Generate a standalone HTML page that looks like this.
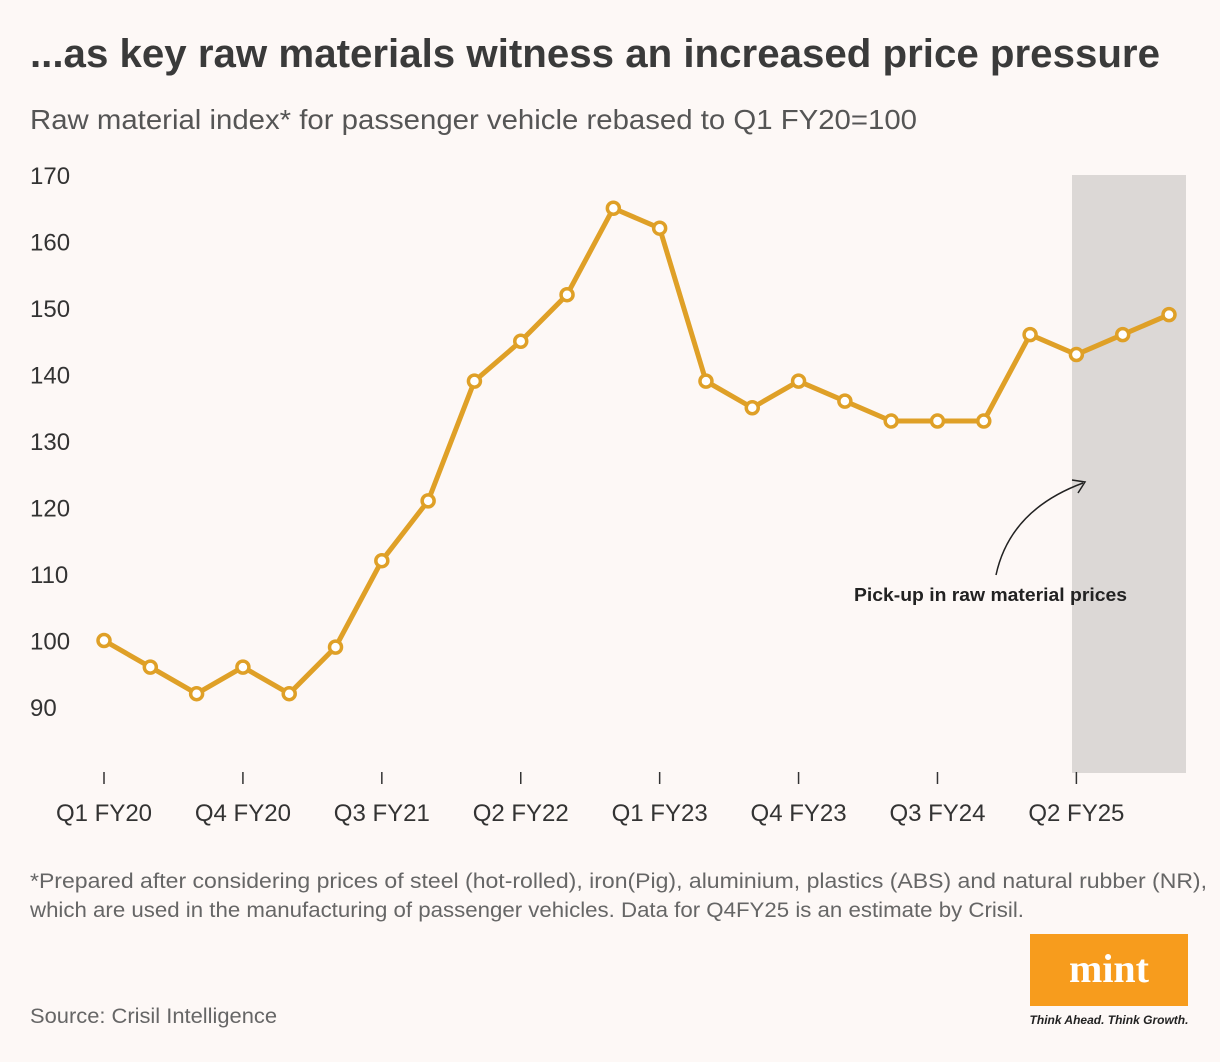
<!DOCTYPE html>
<html><head><meta charset="utf-8"><style>
body{margin:0;background:#fdf8f6;font-family:"Liberation Sans",sans-serif;}
#wrap{position:relative;width:1220px;height:1062px;overflow:hidden;background:#fdf8f6}
</style></head><body>
<div id="wrap">
<svg id="chart" width="1220" height="1062">
<text x="30" y="67" font-size="40" font-weight="bold" fill="#3a3a3a" textLength="1130" lengthAdjust="spacingAndGlyphs">...as key raw materials witness an increased price pressure</text>
<text x="30" y="129" font-size="28" fill="#555" textLength="887" lengthAdjust="spacingAndGlyphs">Raw material index* for passenger vehicle rebased to Q1 FY20=100</text>
<rect x="1072" y="175" width="114" height="598" fill="#dcd8d6"/>
<g id="yaxis"></g>
<g id="xaxis"></g>
<path d="M996 575 Q1010 510 1083 483" fill="none" stroke="#222" stroke-width="1.5"/>
<path d="M1072 480 L1085 482 L1078 493" fill="none" stroke="#222" stroke-width="1.5"/>
<text x="854" y="601" font-size="18" font-weight="bold" fill="#222" textLength="273" lengthAdjust="spacingAndGlyphs">Pick-up in raw material prices</text>
<g id="series"></g>
<text x="30" y="888" font-size="21" fill="#666" textLength="1177" lengthAdjust="spacingAndGlyphs">*Prepared after considering prices of steel (hot-rolled), iron(Pig), aluminium, plastics (ABS) and natural rubber (NR),</text>
<text x="30" y="917" font-size="21" fill="#666" textLength="994" lengthAdjust="spacingAndGlyphs">which are used in the manufacturing of passenger vehicles. Data for Q4FY25 is an estimate by Crisil.</text>
<text x="30" y="1023" font-size="21" fill="#666" textLength="247" lengthAdjust="spacingAndGlyphs">Source: Crisil Intelligence</text>
<rect x="1030" y="934" width="158" height="72" fill="#f79c1d"/>
<text x="1109" y="982" font-size="40" font-weight="bold" fill="#fff" text-anchor="middle" font-family="Liberation Serif,serif">mint</text>
<text x="1109" y="1024" font-size="12" font-weight="bold" font-style="italic" fill="#222" text-anchor="middle">Think Ahead. Think Growth.</text>
</svg>
</div>
<script>
const quarters=["Q1 FY20","Q2 FY20","Q3 FY20","Q4 FY20","Q1 FY21","Q2 FY21","Q3 FY21","Q4 FY21","Q1 FY22","Q2 FY22","Q3 FY22","Q4 FY22","Q1 FY23","Q2 FY23","Q3 FY23","Q4 FY23","Q1 FY24","Q2 FY24","Q3 FY24","Q4 FY24","Q1 FY25","Q2 FY25","Q3 FY25","Q4 FY25"];
const values=[100,96,92,96,92,99,112,121,139,145,152,165,162,139,135,139,136,133,133,133,146,143,146,149];
const yTicks=[90,100,110,120,130,140,150,160,170];
const NS="http://www.w3.org/2000/svg";
function x(i){return 104+i*(1169-104)/23;}
function y(v){return 707-(v-90)*(707-175)/80;}
function mk(t,a,p){const e=document.createElementNS(NS,t);for(const k in a)e.setAttribute(k,a[k]);p.appendChild(e);return e;}
const ya=document.getElementById('yaxis');
yTicks.forEach(v=>{const t=mk('text',{x:30,y:y(v)+9,'font-size':24,fill:'#333'},ya);t.textContent=v;

});
const xa=document.getElementById('xaxis');
quarters.forEach((q,i)=>{if(i%3)return;
const l=mk('line',{x1:x(i),x2:x(i),y1:772,y2:784,stroke:'#333','stroke-width':1.5},xa);


const t=mk('text',{x:x(i),y:821,'font-size':24,fill:'#333','text-anchor':'middle'},xa);t.textContent=q;

});
const s=document.getElementById('series');
const p=mk('polyline',{points:values.map((v,i)=>x(i)+','+y(v)).join(' '),fill:'none',stroke:'#dfa027','stroke-width':5,'stroke-linejoin':'round'},s);


values.forEach((v,i)=>{const c=mk('circle',{cx:x(i),cy:y(v),r:6,fill:'#fff',stroke:'#dfa027','stroke-width':3.5},s);

});
</script>
</body></html>
